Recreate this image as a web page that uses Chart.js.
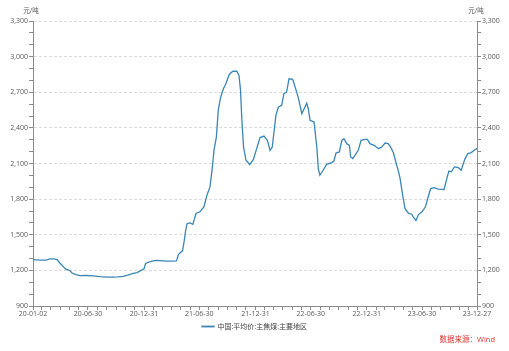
<!DOCTYPE html>
<html>
<head>
<meta charset="utf-8">
<script src="https://cdn.jsdelivr.net/npm/chart.js@4/dist/chart.umd.min.js"></script>
<style>
html, body { margin: 0; padding: 0; background: #fff; }
</style>
</head>
<body>
<canvas id="c" width="509" height="351"></canvas>
<script>
// days since 2020-01-02
var dayOffsets = [0,23,43,56,69,79,88,98,108,121,
  128,141,154,174,197,220,243,262,279,295,
  311,328,341,354,364,369,377,390,403,419,
  436,452,470,477,485,490,495,500,505,514,
  524,534,547,560,570,580,588,593,601,607,
  615,624,632,643,655,668,675,680,684,690,
  698,706,710,722,733,744,757,768,777,784,
  791,796,804,815,822,831,839,851,859,869,
  881,886,897,902,908,921,930,935,940,951,
  962,979,986,993,1004,1012,1019,1028,1037,1041,
  1048,1055,1066,1075,1088,1096,1104,1118,1132,1143,
  1154,1164,1172,1181,1192,1198,1203,1211,1219,1230,
  1241,1246,1255,1263,1275,1286,1295,1303,1314,1329,
  1347,1356,1363,1371,1381,1394,1403,1416,1425,1436,
  1448,1455];

// 元/吨
var prices = [1290,1287,1287,1297,1296,1290,1262,1235,1210,1198,
  1178,1165,1155,1157,1154,1148,1144,1143,1145,1150,
  1160,1175,1182,1200,1214,1258,1267,1278,1285,1282,
  1278,1278,1280,1335,1355,1365,1440,1530,1595,1600,
  1587,1679,1693,1734,1833,1903,2071,2211,2323,2547,
  2659,2729,2771,2850,2877,2877,2841,2720,2490,2239,
  2127,2104,2091,2133,2225,2318,2331,2295,2211,2239,
  2393,2505,2575,2589,2687,2701,2813,2808,2743,2659,
  2519,2547,2608,2561,2463,2449,2239,2057,2001,2043,
  2093,2108,2121,2188,2197,2295,2309,2267,2253,2155,
  2141,2169,2211,2295,2303,2303,2267,2253,2225,2239,
  2272,2267,2239,2190,2085,2029,1973,1840,1721,1682,
  1673,1650,1620,1670,1693,1735,1818,1889,1896,1885,
  1881,1973,2036,2030,2071,2065,2043,2141,2183,2192,
  2216,2225];

var tickDays = [0, 180, 364, 545, 729, 910, 1094, 1275, 1455];
var tickLabels = ['20-01-02','20-06-30','20-12-31','21-06-30','21-12-31','22-06-30','22-12-31','23-06-30','23-12-27'];

var seriesName = '中国:平均价:主焦煤:主要地区';
var unitText = '元/吨';
var sourceText = '数据来源：Wind';

var lineColor = '#3a86b4';
var axisColor = '#8c8c8c';
var textColor = '#595959';
var fontFam = '"Open Sans", "Noto Sans CJK SC", sans-serif';

// monthly minor ticks (month ends) + labelled ones
var start = Date.UTC(2020, 0, 2);
var xTicks = tickDays.slice();
for (var y = 2020; y <= 2023; y++) {
  for (var m = 0; m < 12; m++) {
    var d = Math.round((Date.UTC(y, m + 1, 0) - start) / 864e5);
    if (d > 0 && d < 1455 && xTicks.indexOf(d) < 0 && xTicks.indexOf(d + 1) < 0 && xTicks.indexOf(d - 1) < 0) xTicks.push(d);
  }
}
xTicks.sort(function (a, b) { return a - b; });

var points = dayOffsets.map(function (d, i) { return { x: d, y: prices[i] }; });

function yAxis(pos) {
  return {
    type: 'linear',
    position: pos,
    min: 900,
    max: 3300,
    afterFit: function (s) { s.width = pos === 'left' ? 33 : 32; },
    ticks: {
      stepSize: 100,
      autoSkip: false,
      padding: 1,
      color: textColor,
      font: { family: fontFam, size: 7 },
      callback: function (v) { return (v - 900) % 300 === 0 ? Number(v).toLocaleString('en-US') : ''; }
    },
    grid: {
      drawOnChartArea: pos === 'left',
      color: function (ctx) {
        var v = ctx.tick ? ctx.tick.value : 0;
        return (v > 900 && (v - 900) % 300 === 0) ? '#dcdcdc' : 'rgba(0,0,0,0)';
      },
      tickColor: axisColor,
      tickLength: 4
    },
    border: { color: axisColor, dash: [3, 2] }
  };
}

var unitsPlugin = {
  id: 'units',
  afterDraw: function (chart) {
    var ctx = chart.ctx;
    var a = chart.chartArea;
    ctx.save();
    ctx.font = '6.5px ' + fontFam;
    ctx.fillStyle = textColor;
    ctx.textBaseline = 'middle';
    ctx.textAlign = 'center';
    ctx.fillText(unitText, a.left - 2, 11);
    ctx.fillText(unitText, a.right - 1, 11);
    ctx.font = '7.5px ' + fontFam;
    ctx.fillStyle = '#e0312e';
    ctx.textAlign = 'right';
    ctx.fillText(sourceText, 495, 340);
    ctx.restore();
  }
};

new Chart(document.getElementById('c'), {
  type: 'line',
  data: {
    datasets: [{
      label: seriesName,
      data: points,
      borderColor: lineColor,
      backgroundColor: lineColor,
      borderWidth: 1.3,
      pointRadius: 0,
      tension: 0,
      yAxisID: 'y'
    }]
  },
  options: {
    responsive: false,
    devicePixelRatio: 1,
    animation: false,
    layout: { padding: { top: 21, left: 0, right: 0, bottom: 11 } },
    scales: {
      x: {
        type: 'linear',
        min: 0,
        max: 1455,
        afterBuildTicks: function (s) { s.ticks = xTicks.map(function (v) { return { value: v }; }); },
        afterFit: function (s) { s.height = 13; },
        ticks: {
          autoSkip: false,
          maxRotation: 0,
          padding: 0,
          color: textColor,
          font: { family: fontFam, size: 7 },
          callback: function (v) { var i = tickDays.indexOf(v); return i >= 0 ? tickLabels[i] : ''; }
        },
        grid: { drawOnChartArea: false, tickColor: axisColor, tickLength: 4 },
        border: { color: axisColor }
      },
      y: yAxis('left'),
      y2: yAxis('right')
    },
    plugins: {
      legend: {
        position: 'bottom',
        labels: {
          boxWidth: 12,
          boxHeight: 0.5,
          padding: 4,
          color: '#404040',
          font: { family: fontFam, size: 7 }
        }
      },
      tooltip: { enabled: false }
    }
  },
  plugins: [unitsPlugin]
});
</script>
</body>
</html>
